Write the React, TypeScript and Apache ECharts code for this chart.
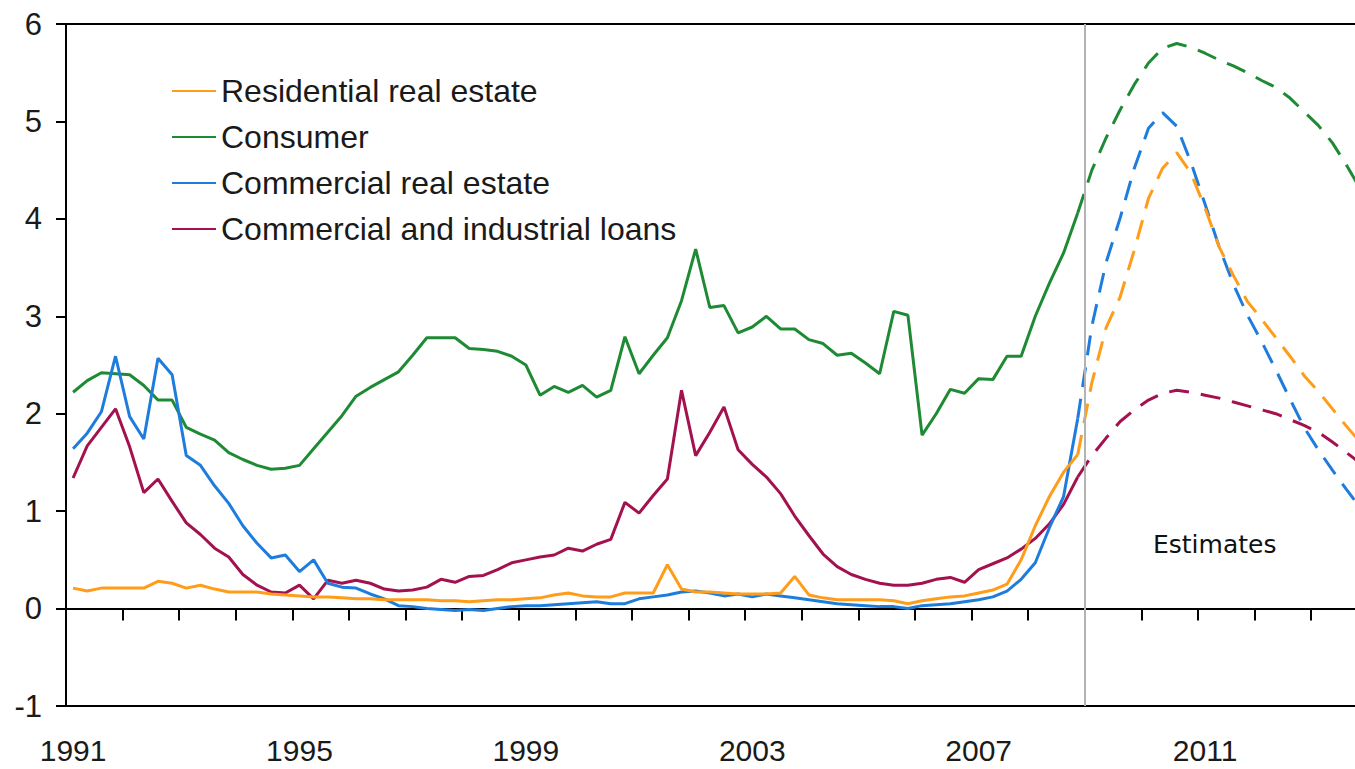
import React, { useEffect, useRef } from "react";
import * as echarts from "echarts";

const years = [1991, 1992, 1993, 1994, 1995, 1996, 1997, 1998, 1999, 2000, 2001, 2002, 2003, 2004, 2005, 2006, 2007, 2008, 2009, 2010, 2011, 2012, 2013, 2014];
const quarterNames = ["Q1", "Q2", "Q3", "Q4"];
const categories = years.flatMap((y) => quarterNames.map((q) => `${y}${q}`));

const seriesNames = ["Residential real estate", "Consumer", "Commercial real estate", "Commercial and industrial loans"];
const colors = ["#FF9C1A", "#1E8B34", "#1E7DDC", "#A3124F"];

// actual values, 1991Q1 .. 2008Q4
const residentialActual = [
  0.21, 0.18, 0.21, 0.21, 0.21, 0.21, 0.28, 0.26, 0.21, 0.24, 0.20, 0.17, 0.17, 0.17, 0.15, 0.14, 0.13, 0.12, 0.12, 0.11, 0.10, 0.10, 0.09, 0.09,
  0.09, 0.09, 0.08, 0.08, 0.07, 0.08, 0.09, 0.09, 0.10, 0.11, 0.14, 0.16, 0.13, 0.12, 0.12, 0.16, 0.16, 0.16, 0.45, 0.20, 0.17, 0.17, 0.16,
  0.15, 0.15, 0.15, 0.16, 0.33, 0.14, 0.11, 0.09, 0.09, 0.09, 0.09, 0.08, 0.05, 0.08, 0.10, 0.12, 0.13, 0.16, 0.19, 0.25, 0.50, 0.85, 1.15, 1.40, 1.58,
];
const consumerActual = [
  2.22, 2.34, 2.42, 2.41, 2.40, 2.29, 2.14, 2.14, 1.86, 1.79, 1.73, 1.60, 1.53, 1.47, 1.43, 1.44, 1.47, 1.64, 1.81, 1.98, 2.18, 2.27, 2.35, 2.43,
  2.60, 2.78, 2.78, 2.78, 2.67, 2.66, 2.64, 2.59, 2.50, 2.19, 2.28, 2.22, 2.29, 2.17, 2.24, 2.79, 2.41, 2.60, 2.78, 3.16, 3.69, 3.09, 3.11,
  2.83, 2.89, 3.00, 2.87, 2.87, 2.76, 2.72, 2.60, 2.62, 2.52, 2.41, 3.05, 3.01, 1.78, 2.00, 2.25, 2.21, 2.36, 2.35, 2.59, 2.59, 3.00, 3.34, 3.65, 4.06,
];
const commercialREActual = [
  1.64, 1.80, 2.02, 2.59, 1.97, 1.74, 2.57, 2.40, 1.57, 1.47, 1.26, 1.08, 0.85, 0.67, 0.52, 0.55, 0.38, 0.50, 0.26, 0.22, 0.21, 0.15, 0.10, 0.03,
  0.02, 0.00, -0.01, -0.02, -0.01, -0.02, 0.00, 0.02, 0.03, 0.03, 0.04, 0.05, 0.06, 0.07, 0.05, 0.05, 0.10, 0.12, 0.14, 0.17, 0.18, 0.16, 0.13,
  0.15, 0.12, 0.15, 0.13, 0.11, 0.09, 0.07, 0.05, 0.04, 0.03, 0.02, 0.02, 0.00, 0.03, 0.04, 0.05, 0.07, 0.09, 0.12, 0.18, 0.30, 0.47, 0.83, 1.15, 1.95,
];
const ciLoansActual = [
  1.34, 1.67, 1.86, 2.05, 1.66, 1.19, 1.33, 1.10, 0.88, 0.76, 0.62, 0.53, 0.35, 0.24, 0.17, 0.16, 0.24, 0.10, 0.29, 0.26, 0.29, 0.26, 0.20, 0.18,
  0.19, 0.22, 0.30, 0.27, 0.33, 0.34, 0.40, 0.47, 0.50, 0.53, 0.55, 0.62, 0.59, 0.66, 0.71, 1.09, 0.98, 1.16, 1.33, 2.24, 1.57, 1.81, 2.07,
  1.63, 1.48, 1.35, 1.18, 0.95, 0.75, 0.56, 0.43, 0.35, 0.30, 0.26, 0.24, 0.24, 0.26, 0.30, 0.32, 0.27, 0.40, 0.46, 0.52, 0.61, 0.72, 0.87, 1.07, 1.35,
];

// estimates, 2008Q4 .. 2013Q4
const residentialEstimate = [1.58, 2.32, 2.88, 3.20, 3.68, 4.21, 4.52, 4.68, 4.47, 4.11, 3.71, 3.42, 3.15, 2.97, 2.78, 2.59, 2.39, 2.23, 2.05, 1.87, 1.70];
const consumerEstimate = [4.06, 4.50, 4.83, 5.12, 5.38, 5.60, 5.75, 5.80, 5.76, 5.70, 5.63, 5.57, 5.50, 5.42, 5.35, 5.24, 5.10, 4.96, 4.78, 4.55, 4.30];
const commercialREEstimate = [1.95, 2.90, 3.55, 4.01, 4.52, 4.93, 5.09, 4.95, 4.58, 4.15, 3.71, 3.33, 3.01, 2.74, 2.45, 2.15, 1.86, 1.63, 1.42, 1.22, 1.03];
const ciLoansEstimate = [1.35, 1.57, 1.75, 1.92, 2.04, 2.14, 2.21, 2.24, 2.22, 2.19, 2.16, 2.12, 2.08, 2.04, 2.00, 1.94, 1.88, 1.81, 1.71, 1.60, 1.49];

const estimateStartIndex = 71; // 2008Q4
const estimateBoundary = 72; // start of 2009

const yTicks = { min: -1, max: 6, interval: 1 };

const FONT = "'Liberation Sans', Arial, sans-serif";

function padActual(arr: number[]) {
  return [...arr, ...Array(categories.length - arr.length).fill(null)];
}
function padEstimate(arr: number[]) {
  const out: (number | null)[] = Array(categories.length).fill(null);
  arr.forEach((v, i) => {
    out[estimateStartIndex + i] = v;
  });
  return out;
}

export default function App() {
  const ref = useRef<HTMLDivElement>(null);

  useEffect(() => {
    if (!ref.current) return;
    const chart = echarts.init(ref.current, null, { renderer: "svg" });

    const actuals = [residentialActual, consumerActual, commercialREActual, ciLoansActual];
    const estimates = [residentialEstimate, consumerEstimate, commercialREEstimate, ciLoansEstimate];
    const drawOrder = [1, 3, 2, 0];

    const series: any[] = [];
    drawOrder.forEach((i) => {
      series.push({
        name: seriesNames[i],
        type: "line",
        xAxisIndex: 0,
        yAxisIndex: 0,
        data: padActual(actuals[i]),
        symbol: "none",
        showSymbol: false,
        lineStyle: { color: colors[i], width: 3 },
        itemStyle: { color: colors[i] },
        z: 3,
      });
    });
    drawOrder.forEach((i) => {
      series.push({
        name: seriesNames[i],
        type: "line",
        xAxisIndex: 0,
        yAxisIndex: 0,
        data: padEstimate(estimates[i]),
        symbol: "none",
        showSymbol: false,
        lineStyle: { color: colors[i], width: 3, type: [20, 12] },
        itemStyle: { color: colors[i] },
        z: 3,
      });
    });
    series.push({
      name: "divider",
      type: "line",
      xAxisIndex: 3,
      yAxisIndex: 0,
      data: [[estimateBoundary, -10]],
      symbol: "none",
      showSymbol: false,
      silent: true,
      z: 2,
      markLine: {
        silent: true,
        symbol: ["none", "none"],
        label: { show: false },
        lineStyle: { color: "#b3b3b3", width: 2, type: "solid" },
        data: [{ xAxis: estimateBoundary }],
      },
    });

    const option: any = {
      animation: false,
      backgroundColor: "#ffffff",
      grid: {
        left: 66,
        right: 15.6,
        top: 24,
        bottom: 63,
        containLabel: false,
        outerBoundsMode: "none",
      },
      legend: {
        show: true,
        orient: "vertical",
        left: 166,
        top: 68,
        itemWidth: 44,
        itemHeight: 14,
        itemGap: 10,
        data: seriesNames,
        lineStyle: { width: 2 },
        itemStyle: { opacity: 0 },
        textStyle: { fontSize: 32, fontFamily: FONT, color: "#1a1a1a", lineHeight: 36 },
        selectedMode: false,
      },
      xAxis: [
        {
          type: "category",
          data: categories,
          boundaryGap: true,
          position: "bottom",
          axisLine: { show: true, onZero: true, lineStyle: { color: "#000", width: 2 } },
          axisTick: { show: true, interval: 3, length: 12, inside: false, lineStyle: { color: "#000", width: 2 } },
          axisLabel: { show: false },
          splitLine: { show: false },
        },
        {
          type: "category",
          data: categories,
          boundaryGap: true,
          position: "bottom",
          axisLine: { show: true, onZero: false, lineStyle: { color: "#000", width: 2 } },
          axisTick: { show: false },
          axisLabel: {
            show: true,
            interval: 15,
            formatter: (v: string) => v.slice(0, 4),
            fontSize: 30,
            fontFamily: FONT,
            color: "#1a1a1a",
            margin: 29,
          },
          splitLine: { show: false },
        },
        {
          type: "category",
          data: categories,
          boundaryGap: true,
          position: "top",
          axisLine: { show: true, onZero: false, lineStyle: { color: "#000", width: 2 } },
          axisTick: { show: false },
          axisLabel: { show: false },
          splitLine: { show: false },
        },
        {
          type: "value",
          min: 0,
          max: categories.length,
          show: false,
        },
      ],
      yAxis: {
        type: "value",
        min: yTicks.min,
        max: yTicks.max,
        interval: yTicks.interval,
        axisLine: { show: true, onZero: false, lineStyle: { color: "#000", width: 2 } },
        axisTick: { show: true, length: 10, inside: false, lineStyle: { color: "#000", width: 2 } },
        axisLabel: { fontSize: 31, fontFamily: FONT, color: "#1a1a1a", margin: 24 },
        splitLine: { show: false },
      },
      graphic: [
        {
          type: "text",
          x: 1153,
          y: 544,
          silent: true,
          style: {
            text: "Estimates",
            font: "25px 'DejaVu Sans', sans-serif",
            fill: "#111",
            align: "left",
            verticalAlign: "middle",
          },
        },
      ],
      series,
    };

    chart.setOption(option);
    return () => chart.dispose();
  }, []);

  return (
    <div style={{ position: "fixed", left: 0, top: 0, width: 1355, height: 769, overflow: "hidden", background: "#fff" }}>
      <div ref={ref} style={{ width: 1440, height: 769 }} />
    </div>
  );
}
